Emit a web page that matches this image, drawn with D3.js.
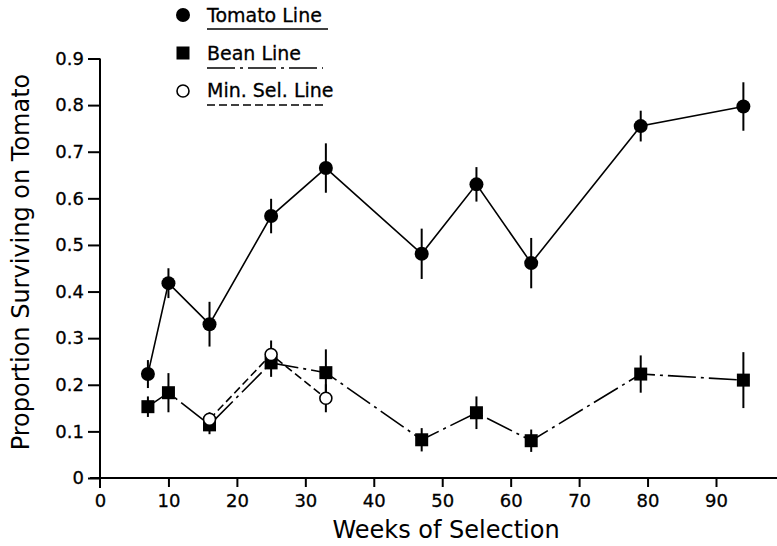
<!DOCTYPE html>
<html>
<head>
<meta charset="utf-8">
<script src="https://cdn.jsdelivr.net/npm/d3@7"></script>
<style>
  body { margin: 0; background: #fff; }
  svg { display: block; }
  .axis text { font-family: "DejaVu Sans", sans-serif; font-size: 18px; fill: #000; stroke: #000; stroke-width: 0.3; }
  .axis line, .axis path { stroke: #000; stroke-width: 2; }
  .title { font-family: "DejaVu Sans", sans-serif; font-size: 24px; fill: #000; }
  .legend { font-family: "DejaVu Sans", sans-serif; font-size: 19px; fill: #000; stroke: #000; stroke-width: 0.3; }
</style>
</head>
<body>
<div id="chart"></div>
<script>
//------------------------1. DATA------------------------//
// values (proportion surviving on tomato, +/- error bar half width)
var weeks = [7, 10, 16, 25, 33, 47, 55, 63, 79, 94];

var tomatoMean = [0.223, 0.418, 0.330, 0.562, 0.665, 0.481, 0.630, 0.461, 0.755, 0.797];
var tomatoErr  = [0.030, 0.032, 0.048, 0.037, 0.053, 0.054, 0.037, 0.054, 0.033, 0.052];

var beanMean = [0.153, 0.183, 0.114, 0.247, 0.226, 0.082, 0.140, 0.080, 0.223, 0.210];
var beanErr  = [0.022, 0.042, 0.020, 0.030, 0.050, 0.025, 0.035, 0.024, 0.040, 0.060];

var minSelWeeks = [16, 25, 33];
var minSelMean  = [0.126, 0.265, 0.171];
var minSelErr   = [0.015, 0.030, 0.030];

var xTicks = [0, 10, 20, 30, 40, 50, 60, 70, 80, 90];
var yTicks = [0, 0.1, 0.2, 0.3, 0.4, 0.5, 0.6, 0.7, 0.8, 0.9];

var legendNames = ["Tomato Line", "Bean Line", "Min. Sel. Line"];

//------------------------2. SETUP------------------------//
var width = 777, height = 546;

var svg = d3.select("#chart").append("svg")
    .attr("width", width)
    .attr("height", height);

var xScale = d3.scaleLinear().domain([0, 99]).range([100, 777.6]);
var yScale = d3.scaleLinear().domain([0, 0.9]).range([478, 58.5]);

function toPoints(xs, ys, es) {
    return xs.map(function(x, i) { return { x: x, y: ys[i], e: es[i] }; });
}

var series = [
    { name: legendNames[0], pts: toPoints(weeks, tomatoMean, tomatoErr), dash: null, shape: "circle", fill: "#000" },
    { name: legendNames[1], pts: toPoints(weeks, beanMean, beanErr), dash: "28,5,3,5", shape: "square", fill: "#000" },
    { name: legendNames[2], pts: toPoints(minSelWeeks, minSelMean, minSelErr), dash: "8,4", shape: "circle", fill: "#fff" }
];

//------------------------3. AXES------------------------//
var xAxis = d3.axisBottom(xScale)
    .tickValues(xTicks)
    .tickSize(9)
    .tickSizeOuter(0)
    .tickPadding(7)
    .tickFormat(d3.format("d"));

var yAxis = d3.axisLeft(yScale)
    .tickValues(yTicks)
    .tickSize(12)
    .tickSizeOuter(0)
    .tickPadding(4)
    .tickFormat(function(d) { return d === 0 ? "0" : d3.format(".1f")(d); });

var gx = svg.append("g")
    .attr("class", "axis")
    .attr("transform", "translate(0," + yScale(0) + ")")
    .call(xAxis);
gx.select(".domain").remove();
gx.append("line")
    .attr("x1", xScale(0) - 10).attr("x2", width)
    .attr("y1", 0).attr("y2", 0);

var gy = svg.append("g")
    .attr("class", "axis")
    .attr("transform", "translate(" + xScale(0) + ",0)")
    .call(yAxis);
gy.select(".domain").remove();
gy.append("line")
    .attr("x1", 0).attr("x2", 0)
    .attr("y1", yScale(0.9)).attr("y2", yScale(0) + 10);
// the 0 tick on x already drawn by the y-axis extension
gx.selectAll(".tick").filter(function(d) { return d === 0; }).select("line").remove();

svg.append("text")
    .attr("class", "title")
    .attr("x", 446)
    .attr("y", 538)
    .attr("text-anchor", "middle")
    .text("Weeks of Selection");

svg.append("text")
    .attr("class", "title")
    .attr("transform", "translate(29," + 262 + ") rotate(-90)")
    .attr("text-anchor", "middle")
    .text("Proportion Surviving on Tomato");

//------------------------4. LINES, BARS, MARKERS------------------------//
var line = d3.line()
    .x(function(d) { return xScale(d.x); })
    .y(function(d) { return yScale(d.y); });

function drawMarker(g, shape, fill, cx, cy) {
    if (shape === "square") {
        g.append("rect")
            .attr("x", cx - 6.5).attr("y", cy - 6.5)
            .attr("width", 13).attr("height", 13)
            .attr("fill", fill);
    } else if (fill === "#000") {
        g.append("circle")
            .attr("cx", cx).attr("cy", cy).attr("r", 7)
            .attr("fill", fill);
    } else {
        g.append("circle")
            .attr("cx", cx).attr("cy", cy).attr("r", 6)
            .attr("fill", fill)
            .attr("stroke", "#000")
            .attr("stroke-width", 1.6);
    }
}

series.forEach(function(s) {
    var g = svg.append("g");

    g.append("path")
        .attr("d", line(s.pts))
        .attr("fill", "none")
        .attr("stroke", "#000")
        .attr("stroke-width", 1.6)
        .attr("stroke-dasharray", s.dash);

    g.selectAll(".err")
        .data(s.pts)
        .enter()
        .append("line")
        .attr("class", "err")
        .attr("x1", function(d) { return xScale(d.x); })
        .attr("x2", function(d) { return xScale(d.x); })
        .attr("y1", function(d) { return yScale(d.y - d.e); })
        .attr("y2", function(d) { return yScale(d.y + d.e); })
        .attr("stroke", "#000")
        .attr("stroke-width", 2);

    s.pts.forEach(function(d) {
        drawMarker(g, s.shape, s.fill, xScale(d.x), yScale(d.y));
    });
});

//------------------------5. LEGEND------------------------//
var legendY = [15, 53, 91];
var legendBase = [22, 60, 97];
var legendLineY = [29, 68, 105];

series.forEach(function(s, i) {
    var g = svg.append("g");
    drawMarker(g, s.shape, s.fill, 183, legendY[i]);
    g.append("text")
        .attr("class", "legend")
        .attr("x", 207)
        .attr("y", legendBase[i])
        .text(s.name);
    g.append("line")
        .attr("x1", 207).attr("x2", i === 0 ? 328 : 323)
        .attr("y1", legendLineY[i]).attr("y2", legendLineY[i])
        .attr("stroke", "#000")
        .attr("stroke-width", 1.6)
        .attr("stroke-dasharray", s.dash);
});
</script>
</body>
</html>
